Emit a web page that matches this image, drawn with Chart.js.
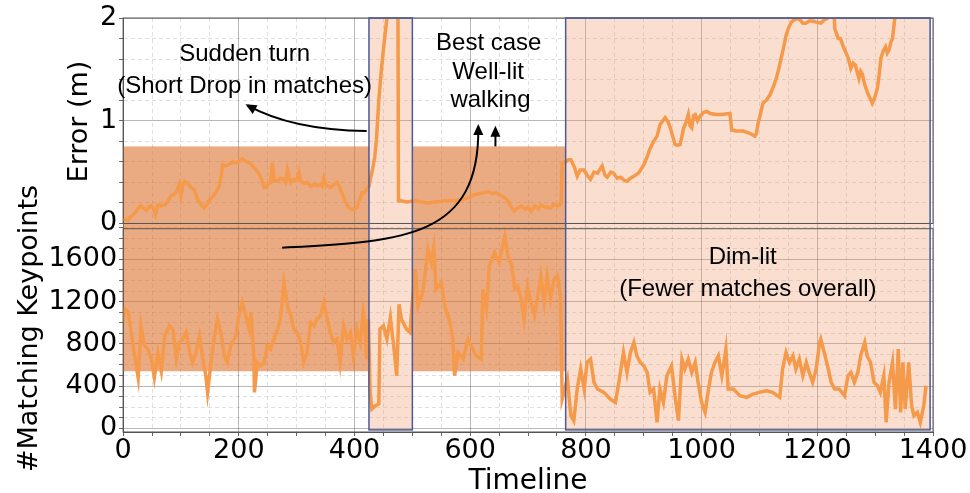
<!DOCTYPE html>
<html>
<head>
<meta charset="utf-8">
<script src="https://cdn.jsdelivr.net/npm/chart.js@4.4.1/dist/chart.umd.min.js"></script>
<style>
  body { margin: 0; background: #fff; }
</style>
</head>
<body>
<canvas id="chart" width="970" height="493"></canvas>
<script>
// timeline (x) and localisation error (m)
const errT = [0,3,8,14,20,26,30,35,40,45,49,53,56,60,66,72,78,83,88,92,97,100,103,106,112,117,123,129,134,140,145,149,158,166,169,172,177,181,185,189,194,198,202,206,210,215,220,224,230,235,240,244,248,252,255,258,261,266,272,277,281,284,287,290,295,300,304,307,313,318,324,330,335,340,344,347,350,358,364,370,374,378,383,387,391,395,400,404,408,413,417,421,425,428,431,435,438,442,447,452,456,460,470,475,476,480,490,504,515,527,540,556,570,585,595,607,615,624,631,638,645,653,660,665,670,676,682,688,695,700,705,712,718,722,730,739,745,751,757,759,765,770,774,780,785,790,797,802,808,814,820,828,833,837,843,848,854,860,866,871,877,883,891,900,906,911,917,923,928,933,937,942,946,950,954,958,963,966,969,973,977,980,983,986,989,993,997,1003,1009,1015,1026,1036,1046,1049,1052,1060,1072,1082,1092,1095,1097,1101,1106,1112,1118,1124,1129,1134,1138,1142,1146,1150,1155,1162,1169,1175,1180,1186,1192,1198,1206,1212,1218,1222,1228,1230,1232,1236,1240,1245,1249,1254,1258,1262,1266,1270,1272,1275,1278,1282,1287,1291,1295,1299,1304,1307,1310,1314,1318,1321,1324,1327,1330,1334,1338];
const errV = [0.03,0.04,0.03,0.07,0.1,0.15,0.17,0.15,0.13,0.16,0.17,0.14,0.09,0.18,0.17,0.18,0.22,0.27,0.28,0.31,0.38,0.27,0.37,0.41,0.39,0.35,0.33,0.23,0.19,0.15,0.19,0.23,0.28,0.36,0.45,0.57,0.56,0.57,0.58,0.6,0.59,0.6,0.61,0.63,0.61,0.6,0.58,0.56,0.52,0.48,0.42,0.35,0.36,0.39,0.4,0.59,0.42,0.41,0.44,0.43,0.4,0.52,0.45,0.4,0.43,0.42,0.5,0.41,0.39,0.4,0.36,0.38,0.37,0.38,0.36,0.44,0.38,0.35,0.38,0.4,0.36,0.3,0.23,0.18,0.15,0.14,0.14,0.15,0.22,0.3,0.3,0.33,0.36,0.45,0.52,0.65,0.82,1.2,1.53,1.8,2.0,2.4,2.4,2.3,0.22,0.22,0.21,0.22,0.21,0.2,0.21,0.22,0.22,0.23,0.25,0.28,0.29,0.3,0.31,0.29,0.3,0.27,0.25,0.22,0.17,0.12,0.15,0.17,0.14,0.16,0.12,0.17,0.14,0.18,0.16,0.15,0.19,0.17,0.19,0.59,0.6,0.62,0.62,0.55,0.46,0.52,0.52,0.47,0.43,0.5,0.49,0.56,0.47,0.45,0.5,0.49,0.44,0.45,0.42,0.41,0.44,0.46,0.49,0.57,0.65,0.73,0.8,0.85,0.96,1.0,1.03,0.99,0.93,0.85,0.77,0.76,0.77,0.85,0.93,0.98,1.06,0.95,0.93,1.05,1.06,1.0,1.04,1.08,1.09,1.07,1.06,1.06,1.07,1.07,0.91,0.9,0.9,0.88,0.85,0.88,0.96,1.05,1.17,1.2,1.25,1.33,1.41,1.52,1.62,1.72,1.83,1.9,1.96,1.99,1.99,1.95,1.95,1.97,1.97,1.96,1.95,1.98,2.0,2.3,2.3,1.9,1.87,1.8,1.8,1.72,1.67,1.6,1.51,1.56,1.54,1.45,1.41,1.48,1.45,1.35,1.27,1.22,1.17,1.22,1.32,1.45,1.61,1.68,1.72,1.66,1.69,1.76,1.8,2.0,2.3];

// timeline (x) and number of matching keypoints
const kpT = [0,3,9,14,20,26,31,37,43,49,54,60,66,72,80,86,92,97,103,109,115,120,126,132,137,143,146,152,158,163,169,175,180,186,195,200,206,212,218,221,226,227,232,238,244,249,255,261,267,272,278,284,290,295,301,307,312,318,324,330,335,341,347,353,358,364,370,375,381,387,393,398,404,410,415,418,421,424,427,430,436,442,444,450,456,462,465,469,473,477,481,490,496,499,505,510,518,527,533,537,541,550,556,565,570,573,579,588,596,602,610,619,622,628,633,642,650,660,665,672,677,682,688,693,699,705,711,716,722,728,733,739,745,751,756,759,768,774,779,785,791,797,802,808,814,820,831,842,851,857,865,871,877,883,888,894,900,906,911,917,923,928,934,940,948,954,960,966,971,977,983,989,994,1000,1006,1012,1017,1023,1029,1035,1042,1046,1055,1066,1078,1089,1100,1112,1123,1135,1140,1146,1152,1158,1163,1169,1175,1181,1186,1192,1198,1204,1206,1212,1219,1224,1230,1238,1247,1253,1258,1264,1270,1275,1282,1286,1292,1298,1304,1309,1315,1319,1324,1330,1335,1340,1344,1348,1352,1358,1363,1367,1373,1378,1384,1388];
const kpV = [1000,1128,1100,908,687,482,970,782,750,655,482,718,545,876,970,939,655,813,845,908,718,624,718,876,687,498,340,624,876,1034,908,687,624,782,876,1065,1191,1065,939,1097,687,340,624,592,624,782,750,845,939,1034,1380,1160,1065,939,908,813,624,718,1002,970,1034,1065,1191,1034,908,813,845,624,970,845,908,687,939,813,1097,970,655,1034,340,182,214,230,939,970,845,1050,908,718,498,1175,1034,939,908,1128,1506,1160,1286,1695,1569,1710,1317,1380,1160,1002,845,498,718,655,845,782,687,655,1317,1128,1538,1664,1569,1821,1632,1538,1317,1349,1223,1034,1349,1191,1065,1223,1443,1191,1443,1223,1412,1443,1254,277,466,119,72,372,561,372,624,655,435,372,340,277,245,435,718,529,718,813,687,624,592,529,340,372,57,372,245,498,592,308,72,655,561,655,529,624,435,245,151,372,529,624,687,498,750,372,372,308,293,324,340,356,340,293,561,718,624,687,561,655,498,624,529,435,561,813,845,718,561,435,372,372,308,498,529,435,529,687,813,687,624,435,403,340,498,57,435,624,182,750,151,624,182,624,214,119,151,57,214,403];

const xTicks = [0, 200, 400, 600, 800, 1000, 1200, 1400];
const errTicks = [0, 1, 2];
const kpTicks = [0, 400, 800, 1200, 1600];

// shaded regions, in timeline units
const wellLit = [[0, 425], [500, 765]];
const highlighted = [[425, 500], [765, 1395]];

const lineColor = '#f5994a';
const majorGrid = 'rgba(0,0,0,0.28)';
const minorGrid = 'rgba(0,0,0,0.12)';

Chart.defaults.font.family = '"DejaVu Sans", sans-serif';
Chart.defaults.color = '#000';

function near(v, step) {
  return Math.abs(v / step - Math.round(v / step)) < 1e-6;
}

function arrowHead(ctx, fx, fy, tx, ty) {
  const a = Math.atan2(ty - fy, tx - fx);
  const len = 11, half = 5;
  ctx.beginPath();
  ctx.moveTo(tx, ty);
  ctx.lineTo(tx - len * Math.cos(a) + half * Math.sin(a), ty - len * Math.sin(a) - half * Math.cos(a));
  ctx.lineTo(tx - len * Math.cos(a) - half * Math.sin(a), ty - len * Math.sin(a) + half * Math.cos(a));
  ctx.closePath();
  ctx.fill();
}

const overlay = {
  id: 'overlay',
  beforeDatasetsDraw(chart) {
    const { ctx, scales } = chart;
    const x = scales.x, e = scales.yErr, k = scales.yKp;
    ctx.save();
    ctx.fillStyle = 'rgba(220,110,40,0.58)';
    wellLit.forEach(([a, b]) => {
      const top = e.getPixelForValue(0.75), bot = k.getPixelForValue(540);
      ctx.fillRect(x.getPixelForValue(a), top, x.getPixelForValue(b) - x.getPixelForValue(a), bot - top);
    });
    ctx.fillStyle = 'rgba(240,150,100,0.3)';
    highlighted.forEach(([a, b]) => {
      const top = e.getPixelForValue(2), bot = k.getPixelForValue(-15);
      ctx.fillRect(x.getPixelForValue(a), top, x.getPixelForValue(b) - x.getPixelForValue(a), bot - top);
    });
    ctx.restore();
  },
  afterDatasetsDraw(chart) {
    const { ctx, chartArea, scales } = chart;
    const x = scales.x, e = scales.yErr, k = scales.yKp;
    ctx.save();

    // panel frames
    ctx.strokeStyle = '#555';
    ctx.lineWidth = 1;
    ctx.strokeRect(chartArea.left, e.top, chartArea.width, e.getPixelForValue(0) - e.top);
    ctx.strokeRect(chartArea.left, k.getPixelForValue(1890), chartArea.width, k.bottom - k.getPixelForValue(1890));

    // highlighted boxes
    ctx.strokeStyle = '#4a5a96';
    ctx.lineWidth = 1.5;
    highlighted.forEach(([a, b]) => {
      const top = e.getPixelForValue(2), bot = k.getPixelForValue(-15);
      ctx.strokeRect(x.getPixelForValue(a), top, x.getPixelForValue(b) - x.getPixelForValue(a), bot - top);
    });

    // arrows
    ctx.strokeStyle = '#000';
    ctx.fillStyle = '#000';
    ctx.lineWidth = 2;
    let sx = x.getPixelForValue(421), sy = e.getPixelForValue(0.9);
    let cx = x.getPixelForValue(292), cy = e.getPixelForValue(0.91);
    let ex = x.getPixelForValue(215), ey = e.getPixelForValue(1.15);
    ctx.beginPath();
    ctx.moveTo(sx, sy);
    ctx.quadraticCurveTo(cx, cy, ex, ey);
    ctx.stroke();
    arrowHead(ctx, cx, cy, ex - 2, ey - 1);

    sx = x.getPixelForValue(275); sy = k.getPixelForValue(1710);
    const c1x = x.getPixelForValue(481), c1y = k.getPixelForValue(1770);
    const c2x = x.getPixelForValue(616), c2y = k.getPixelForValue(1790);
    ex = x.getPixelForValue(614); ey = e.getPixelForValue(0.93);
    ctx.beginPath();
    ctx.moveTo(sx, sy);
    ctx.bezierCurveTo(c1x, c1y, c2x, c2y, ex, ey);
    ctx.stroke();
    arrowHead(ctx, ex, ey + 10, ex, ey - 4);

    const ax = x.getPixelForValue(643.6);
    ctx.beginPath();
    ctx.moveTo(ax, e.getPixelForValue(0.75));
    ctx.lineTo(ax, e.getPixelForValue(0.92));
    ctx.stroke();
    arrowHead(ctx, ax, e.getPixelForValue(0.8), ax, e.getPixelForValue(0.95));

    // notes
    ctx.font = '24px "Liberation Sans", Arial, sans-serif';
    ctx.textAlign = 'center';
    ctx.textBaseline = 'middle';
    const note = (t, px, py) => ctx.fillText(t, x.getPixelForValue(px), py);
    note('Sudden turn', 210, e.getPixelForValue(1.65));
    note('(Short Drop in matches)', 210, e.getPixelForValue(1.33));
    note('Best case', 632, e.getPixelForValue(1.75));
    note('Well-lit', 631, e.getPixelForValue(1.47));
    note('walking', 635, e.getPixelForValue(1.2));
    note('Dim-lit', 1071, k.getPixelForValue(1620));
    note('(Fewer matches overall)', 1080, k.getPixelForValue(1317));
    ctx.restore();
  }
};

const tickFont = { size: 27, lineHeight: 1 };

new Chart(document.getElementById('chart'), {
  type: 'line',
  data: {
    datasets: [
      {
        label: 'Error',
        data: errT.map((t, i) => ({ x: t, y: errV[i] })),
        yAxisID: 'yErr',
        borderColor: lineColor,
        borderWidth: 3.5,
        pointRadius: 0,
        tension: 0
      },
      {
        label: 'Matching keypoints',
        data: kpT.map((t, i) => ({ x: t, y: kpV[i] })),
        yAxisID: 'yKp',
        borderColor: lineColor,
        borderWidth: 3.5,
        pointRadius: 0,
        tension: 0
      }
    ]
  },
  options: {
    responsive: false,
    animation: false,
    layout: { padding: { left: 14, top: 18, right: 37, bottom: 0 } },
    plugins: { legend: { display: false }, tooltip: { enabled: false } },
    scales: {
      x: {
        type: 'linear',
        min: 0,
        max: 1400,
        ticks: {
          stepSize: 50,
          autoSkip: false,
          maxRotation: 0,
          padding: 1,
          font: tickFont,
          callback: v => (xTicks.includes(v) ? String(v) : '')
        },
        grid: {
          color: c => (near(c.tick.value, 200) ? majorGrid : minorGrid),
          tickLength: 4,
          tickColor: '#666'
        },
        border: { color: '#555', dash: c => (c.tick && !near(c.tick.value, 200) ? [4, 3] : []) },
        title: { display: true, text: 'Timeline', font: { size: 28, lineHeight: 1 }, padding: { top: 3, bottom: -3 } }
      },
      yKp: {
        type: 'linear',
        position: 'left',
        stack: 'panels',
        stackWeight: 1,
        min: -35,
        max: 1925,
        ticks: {
          stepSize: 100,
          includeBounds: false,
          autoSkip: false,
          padding: 2,
          font: tickFont,
          callback: v => (kpTicks.includes(Math.round(v)) ? String(Math.round(v)) : '')
        },
        grid: {
          color: c => (near(c.tick.value, 400) ? majorGrid : minorGrid),
          tickLength: 4,
          tickColor: '#666'
        },
        border: { color: '#555', dash: c => (c.tick && !near(c.tick.value, 400) ? [4, 3] : []) },
        title: { display: true, text: '#Matching Keypoints', font: { size: 27 }, padding: { top: 0, bottom: 0 } }
      },
      yErr: {
        type: 'linear',
        position: 'left',
        stack: 'panels',
        stackWeight: 1,
        min: -0.015,
        max: 2,
        ticks: {
          stepSize: 0.2,
          includeBounds: false,
          autoSkip: false,
          padding: 2,
          font: tickFont,
          callback: v => {
            const r = Math.round(v);
            return Math.abs(v - r) < 1e-6 && errTicks.includes(r) ? String(r) : '';
          }
        },
        grid: {
          color: c => (near(c.tick.value, 1) ? majorGrid : minorGrid),
          tickLength: 4,
          tickColor: '#666'
        },
        border: { color: '#555', dash: c => (c.tick && !near(c.tick.value, 1) ? [4, 3] : []) },
        title: { display: true, text: 'Error (m)', font: { size: 27 }, padding: { top: 50, bottom: 0 } }
      }
    }
  },
  plugins: [overlay]
});
</script>
</body>
</html>
